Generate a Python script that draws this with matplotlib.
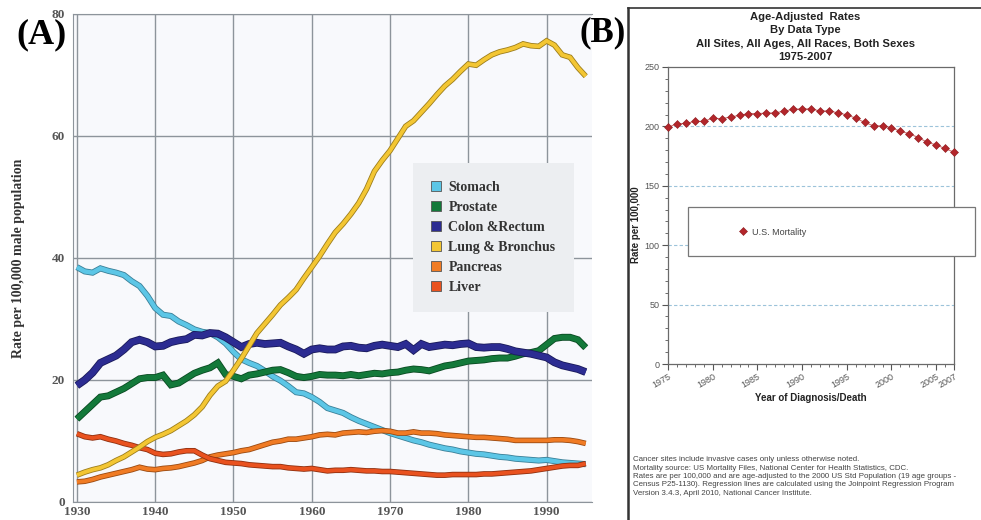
import matplotlib
matplotlib.use("Agg")
import matplotlib.pyplot as plt
import matplotlib.patheffects as pe
from matplotlib.patches import Patch, Rectangle
from matplotlib.lines import Line2D
from matplotlib.ticker import MultipleLocator, FixedLocator

# ── Panel A data: male cancer death rates per 100,000, 1930-1995 ─────────
years_a = list(range(1930, 1996))

stomach = [38.5, 37.8, 37.6, 38.3, 37.9, 37.6, 37.2, 36.2, 35.4, 33.8,
           31.8, 30.7, 30.5, 29.6, 29.0, 28.3, 27.9, 27.7, 27.0, 26.0,
           24.6, 23.4, 22.8, 22.3, 21.5, 20.6, 19.9, 19.0, 18.0, 17.8,
           17.2, 16.4, 15.4, 15.0, 14.6, 13.9, 13.3, 12.8, 12.3, 11.8,
           11.3, 10.9, 10.5, 10.1, 9.8, 9.4, 9.1, 8.8, 8.6, 8.3,
           8.1, 7.9, 7.8, 7.6, 7.4, 7.3, 7.1, 7.0, 6.9, 6.8,
           6.9, 6.7, 6.5, 6.4, 6.3, 6.2]

prostate = [13.6, 14.8, 16.0, 17.2, 17.4, 18.0, 18.6, 19.4, 20.2, 20.4,
            20.4, 20.8, 19.2, 19.5, 20.3, 21.1, 21.6, 22.0, 22.8, 20.9,
            20.6, 20.2, 20.8, 21.0, 21.3, 21.6, 21.7, 21.2, 20.6, 20.4,
            20.6, 20.9, 20.8, 20.8, 20.7, 20.9, 20.7, 20.9, 21.1, 21.0,
            21.2, 21.3, 21.6, 21.8, 21.7, 21.5, 21.9, 22.3, 22.5, 22.8,
            23.1, 23.2, 23.3, 23.5, 23.6, 23.6, 23.9, 24.3, 24.5, 24.8,
            25.8, 26.8, 27.0, 27.0, 26.6, 25.3]

colon = [19.1, 20.0, 21.2, 22.8, 23.4, 24.0, 25.0, 26.2, 26.6, 26.2,
         25.5, 25.6, 26.2, 26.5, 26.7, 27.4, 27.3, 27.7, 27.6, 27.0,
         26.2, 25.4, 25.9, 26.1, 25.9, 26.0, 26.1, 25.5, 25.0, 24.3,
         25.0, 25.2, 25.0, 25.0, 25.5, 25.6, 25.3, 25.2, 25.6, 25.8,
         25.6, 25.4, 25.9, 24.9, 25.9, 25.4, 25.6, 25.8, 25.7, 25.9,
         26.0, 25.4, 25.3, 25.4, 25.4, 25.1, 24.7, 24.5, 24.3, 24.0,
         23.7, 22.9, 22.4, 22.1, 21.8, 21.3]

lung = [4.4, 4.9, 5.3, 5.6, 6.1, 6.8, 7.4, 8.2, 9.0, 9.9,
        10.6, 11.1, 11.7, 12.5, 13.3, 14.3, 15.6, 17.5, 19.0, 19.8,
        21.6, 23.5, 25.6, 27.7, 29.2, 30.7, 32.3, 33.5, 34.8, 36.7,
        38.5, 40.3, 42.3, 44.2, 45.6, 47.2, 49.0, 51.3, 54.2, 56.0,
        57.6, 59.6, 61.6, 62.5, 63.9, 65.3, 66.8, 68.2, 69.3, 70.6,
        71.8, 71.6, 72.5, 73.3, 73.8, 74.1, 74.5, 75.1, 74.8, 74.7,
        75.6, 74.9, 73.3, 72.9, 71.2, 69.8]

pancreas = [3.3, 3.4, 3.7, 4.1, 4.4, 4.7, 5.0, 5.3, 5.7, 5.4,
            5.3, 5.5, 5.6, 5.8, 6.1, 6.4, 6.8, 7.4, 7.7, 7.9,
            8.1, 8.4, 8.6, 9.0, 9.4, 9.8, 10.0, 10.3, 10.3, 10.5,
            10.7, 11.0, 11.1, 11.0, 11.3, 11.4, 11.5, 11.4, 11.6, 11.7,
            11.6, 11.3, 11.3, 11.5, 11.3, 11.3, 11.2, 11.0, 10.9, 10.8,
            10.7, 10.6, 10.6, 10.5, 10.4, 10.3, 10.1, 10.1, 10.1, 10.1,
            10.1, 10.2, 10.2, 10.1, 9.9, 9.6]

liver = [11.2, 10.7, 10.5, 10.7, 10.3, 10.0, 9.6, 9.3, 8.9, 8.6,
         8.0, 7.8, 7.9, 8.2, 8.4, 8.4, 7.7, 7.1, 6.8, 6.5,
         6.4, 6.3, 6.1, 6.0, 5.9, 5.8, 5.8, 5.6, 5.5, 5.4,
         5.5, 5.3, 5.1, 5.2, 5.2, 5.3, 5.2, 5.1, 5.1, 5.0,
         5.0, 4.9, 4.8, 4.7, 4.6, 4.5, 4.4, 4.4, 4.5, 4.5,
         4.5, 4.5, 4.6, 4.6, 4.7, 4.8, 4.9, 5.0, 5.1, 5.3,
         5.5, 5.7, 5.9, 6.0, 6.0, 6.3]

labels_a = ["Stomach", "Prostate", "Colon &Rectum", "Lung & Bronchus",
            "Pancreas", "Liver"]
series_a = [stomach, prostate, colon, lung, pancreas, liver]
colors_a = ["#5cc6e6", "#13793a", "#2c2c92", "#f3c633", "#f07b24", "#e9521f"]
edges_a  = ["#3a7f97", "#0a4a22", "#1a1a5a", "#9c7d1c", "#9a4a12", "#8f3010"]
widths_a = [3.2, 3.8, 4.4, 2.8, 2.8, 2.8]
draw_order = [0, 1, 2, 4, 5, 3]

# ── Panel B data: U.S. cancer mortality, all sites, 1975-2007 ────────────
years_b = list(range(1975, 2008))
mortality = [199.2, 202.2, 202.5, 204.2, 204.2, 207.0, 206.4, 208.0, 209.2,
             210.8, 210.8, 211.1, 211.4, 212.8, 214.4, 214.7, 214.7, 213.0,
             213.0, 211.4, 209.7, 207.0, 203.3, 200.5, 200.5, 198.9, 195.8,
             193.9, 190.6, 186.7, 184.4, 181.4, 178.3]
xticks_b = [1975, 1980, 1985, 1990, 1995, 2000, 2005, 2007]

title_b = ("Age-Adjusted  Rates\nBy Data Type\n"
           "All Sites, All Ages, All Races, Both Sexes\n1975-2007")
footnote_b = ("Cancer sites include invasive cases only unless otherwise noted.\n"
              "Mortality source: US Mortality Files, National Center for Health Statistics, CDC.\n"
              "Rates are per 100,000 and are age-adjusted to the 2000 US Std Population (19 age groups -\n"
              "Census P25-1130). Regression lines are calculated using the Joinpoint Regression Program\n"
              "Version 3.4.3, April 2010, National Cancer Institute.")

SERIF = "Liberation Serif"
SANS = "Liberation Sans"
W, H = 981, 520

fig = plt.figure(figsize=(W / 100, H / 100), dpi=100)
fig.patch.set_facecolor("white")

def fx(px): return px / W
def fy(py): return 1 - py / H

# ── Panel A ────────────────────────────────────────────────────────────
axA = fig.add_axes([fx(73), fy(502), fx(592) - fx(73), fy(14) - fy(502)])
axA.set_facecolor("#f8f9fc")
axA.set_xlim(1929.5, 1995.8)
axA.set_ylim(0, 80)
axA.xaxis.set_major_locator(FixedLocator([1930, 1940, 1950, 1960, 1970, 1980, 1990]))
axA.yaxis.set_major_locator(FixedLocator([0, 20, 40, 60, 80]))
axA.grid(True, color="#8d949b", lw=1.0)
axA.set_axisbelow(True)
for s in ["top", "left", "bottom"]:
    axA.spines[s].set_color("#8d949b")
axA.spines["right"].set_visible(False)
axA.tick_params(axis="y", length=0, labelsize=9.5, labelcolor="#555555", pad=6)
axA.tick_params(axis="x", length=0, labelsize=9.5, labelcolor="#555555", pad=3)
for lab in axA.get_xticklabels() + axA.get_yticklabels():
    lab.set_fontfamily(SERIF)
    lab.set_fontweight("bold")

for i in draw_order:
    axA.plot(years_a, series_a[i], color=colors_a[i], lw=widths_a[i],
             solid_capstyle="butt", solid_joinstyle="miter",
             path_effects=[pe.Stroke(linewidth=widths_a[i] + 1.2, foreground=edges_a[i]),
                           pe.Normal()])

axA.set_ylabel("Rate per 100,000 male population", fontfamily=SERIF,
               fontweight="bold", fontsize=10, color="#333333")
axA.yaxis.set_label_coords(-0.092, 0.5)

handles = [Patch(facecolor=c, edgecolor="#555555", lw=0.6) for c in colors_a]
legA = axA.legend(handles, labels_a, loc="upper left",
                  bbox_to_anchor=(0.655, 0.695), frameon=True, fancybox=False,
                  prop={"family": SERIF, "weight": "bold", "size": 10},
                  handlelength=0.75, handleheight=0.75, handletextpad=0.5,
                  labelspacing=0.5, borderpad=1.3, borderaxespad=0)
legA.get_frame().set_facecolor("#eceef1")
legA.get_frame().set_edgecolor("none")
legA.get_frame().set_alpha(1)
for t in legA.get_texts():
    t.set_color("#333333")

fig.text(fx(41), fy(35), "(A)", fontfamily=SERIF, fontweight="bold",
         fontsize=26, ha="center", va="center", color="black")

# ── Panel B frame ──────────────────────────────────────────────────────
fig.add_artist(Line2D([fx(628), fx(628)], [0, fy(8)], color="#333333", lw=1.8))
fig.add_artist(Line2D([fx(628), fx(981)], [fy(8), fy(8)], color="#333333", lw=1.2))

axB = fig.add_axes([fx(668), fy(364), fx(954) - fx(668), fy(67) - fy(364)])
axB.set_facecolor("white")
axB.set_xlim(1975, 2007)
axB.set_ylim(0, 250)
axB.xaxis.set_major_locator(FixedLocator(xticks_b))
axB.xaxis.set_minor_locator(MultipleLocator(1))
axB.yaxis.set_major_locator(MultipleLocator(50))
axB.yaxis.set_minor_locator(MultipleLocator(10))
for yv in [50, 100, 150, 200]:
    axB.axhline(yv, color="#9cc3da", lw=0.8, ls=(0, (3, 2)), zorder=0)
for s in axB.spines.values():
    s.set_color("#6a6a6a")
    s.set_linewidth(0.9)
axB.tick_params(which="major", length=4, width=0.8, color="#555555",
                labelsize=6.5, labelcolor="#555555", pad=2)
axB.tick_params(which="minor", length=2.5, width=0.6, color="#555555")
for lab in axB.get_xticklabels() + axB.get_yticklabels():
    lab.set_fontfamily(SANS)
for lab in axB.get_xticklabels():
    lab.set_rotation(30)
    lab.set_ha("right")
    lab.set_rotation_mode("anchor")

axB.plot(years_b, mortality, color="#d07070", lw=0.8, zorder=2, clip_on=False)
axB.plot(years_b, mortality, ls="none", marker="D", ms=3.6, color="#b3262b",
         mec="#8c1a1e", mew=0.4, zorder=3, clip_on=False,
         label="U.S. Mortality")

axB.set_xlabel("Year of Diagnosis/Death", fontfamily=SANS, fontweight="bold",
               fontsize=7, color="#222222", labelpad=2)
axB.set_ylabel("Rate per 100,000", fontfamily=SANS, fontweight="bold",
               fontsize=7, color="#222222")
axB.yaxis.set_label_coords(-0.094, 0.47)

axB.add_patch(Rectangle((0.070, 0.364), 1.003, 0.165, transform=axB.transAxes,
                        facecolor="white", edgecolor="#777777", lw=0.9,
                        clip_on=False, zorder=4))
legB = axB.legend(loc="center left", bbox_to_anchor=(0.245, 0.444),
                  frameon=False, prop={"family": SANS, "size": 6.5},
                  handlelength=1.2, handletextpad=0.3, borderpad=0,
                  borderaxespad=0)
legB.set_zorder(5)
for t in legB.get_texts():
    t.set_color("#444444")

fig.text(fx(805), fy(12), title_b, fontfamily=SANS, fontweight="bold",
         fontsize=8.1, ha="center", va="top", linespacing=1.42,
         color="#222222")

fig.text(fx(633), fy(456), footnote_b, fontfamily=SANS, fontsize=5.7,
         ha="left", va="top", linespacing=1.3, color="#444444")

fig.text(fx(603), fy(33), "(B)", fontfamily=SERIF, fontweight="bold",
         fontsize=25, ha="center", va="center", color="black")

fig.savefig("out.png", dpi=100, facecolor=fig.get_facecolor())
